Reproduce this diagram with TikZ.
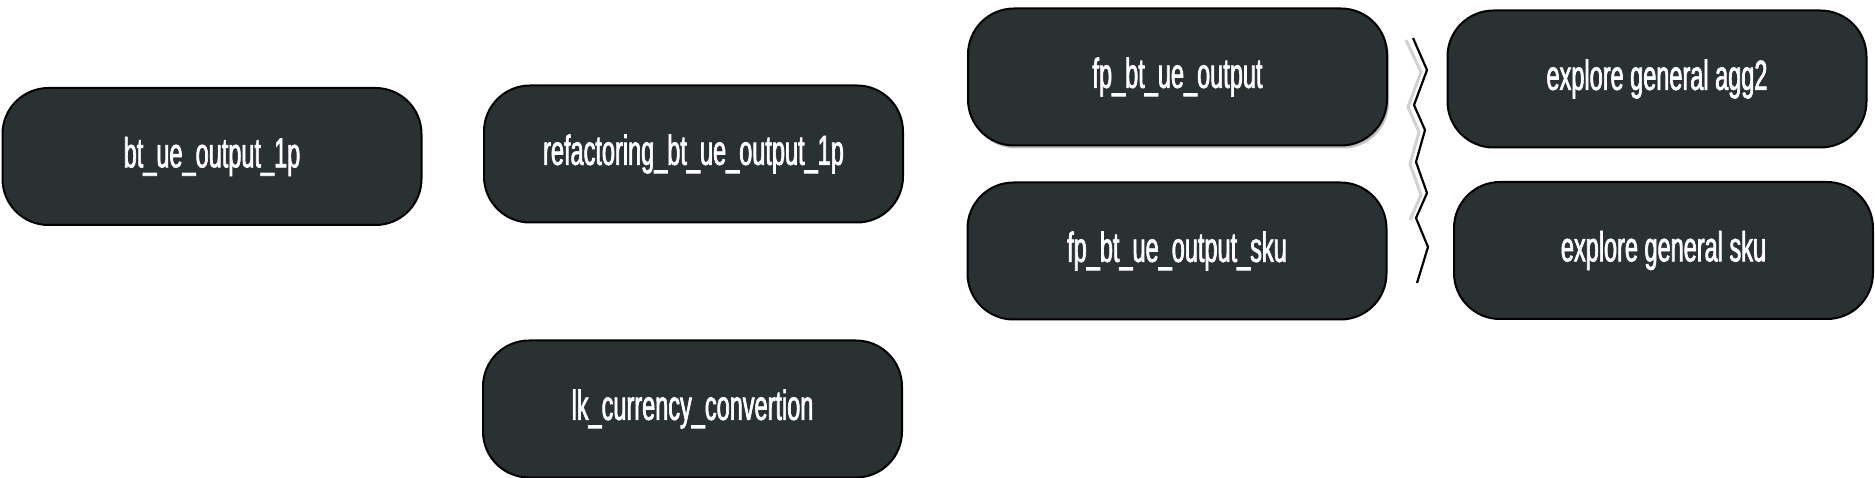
\documentclass[tikz,border=0pt]{standalone}
\usepackage{fontspec}
\newfontfamily\lab{Liberation Sans}[FakeStretch=0.56, FakeBold=1.6]
\usetikzlibrary{shadows}
\definecolor{boxfill}{HTML}{2A3133}
\tikzset{
  box/.style={draw=black, line width=2pt, fill=boxfill, rounded corners=46pt,
    minimum width=419pt, minimum height=137pt, inner sep=0pt,
    text=white, font=\lab\fontsize{42}{50}\selectfont},
  shad/.style={drop shadow={shadow xshift=2pt, shadow yshift=-3pt, fill=black!35, opacity=0.7}},
  zig/.style={line width=2.2pt, black, line join=miter},
  zigshadow/.style={line width=3pt, black!18, line join=miter},
}
\begin{document}
\begin{tikzpicture}[x=1pt,y=-1pt]
\useasboundingbox (0,0) rectangle (1875,478);
\node[box] (n1) at (212,156.5) {bt\_ue\_output\_1p};
\node[box] (n2) at (693.5,154) {refactoring\_bt\_ue\_output\_1p};
\node[box] (n3) at (692.5,409) {lk\_currency\_convertion};
\node[box, shad] (n4) at (1177.5,77) {fp\_bt\_ue\_output};
\node[box] (n5) at (1177,251) {fp\_bt\_ue\_output\_sku};
\node[box] (n6) at (1657,79) {explore general agg2};
\node[box] (n7) at (1663.5,250.5) {explore general sku};
\draw[zigshadow] (1406,40) -- (1421,72) -- (1408,107) -- (1419,132) -- (1410,164) -- (1421,195) -- (1410,220);
\draw[zig] (1413,38) -- (1427,70) -- (1414,105) -- (1425,130) -- (1416,162) -- (1427,193) -- (1416,218) -- (1428,247) -- (1417,283);
\end{tikzpicture}
\end{document}
